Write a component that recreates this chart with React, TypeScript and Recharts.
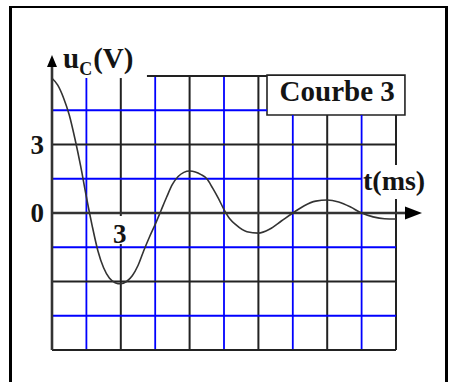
import React from "react";
import { LineChart, Line, XAxis, YAxis, ReferenceLine, ReferenceArea, ReferenceDot } from "recharts";

// time (ms)
const T = [0, 0.25, 0.5, 0.75, 1, 1.25, 1.5, 1.75, 2, 2.25, 2.5, 2.75, 3, 3.25, 3.5, 3.75, 4, 4.25, 4.5, 4.75, 5, 5.25, 5.5, 5.75, 6, 6.25, 6.5, 6.75, 7, 7.25, 7.5, 7.75, 8, 8.5, 9, 9.5, 10, 10.5, 11, 11.5, 12, 12.5, 13, 13.5, 14, 14.5, 15];
// uC (V)
const U = [5.9, 5.6, 5.05, 4.3, 3.25, 2.05, 0.7, -0.55, -1.65, -2.4, -2.85, -3.05, -3.1, -3.0, -2.75, -2.3, -1.65, -1.05, -0.5, 0.1, 0.7, 1.25, 1.6, 1.78, 1.84, 1.8, 1.68, 1.5, 1.1, 0.65, 0.15, -0.25, -0.5, -0.82, -0.88, -0.7, -0.35, 0.0, 0.32, 0.52, 0.57, 0.48, 0.27, 0.0, -0.17, -0.25, -0.26];

const X_GRID = [1.5, 3, 4.5, 6, 7.5, 9, 10.5, 12, 13.5, 15];
const Y_GRID = [6, 4.5, 3, 1.5, -1.5, -3, -4.5, -6];
const Y_TICKS = [3, 0];
const X_TICKS = [3];
const TITLE = "Courbe 3";

const data = T.map((t, i) => ({ t, u: U[i] }));

const BLUE = "#0000ff";
const BLACK = "#222222";
const FONT = "'Liberation Serif', 'Times New Roman', serif";

const isBlack = (v: number) => Math.abs(v / 3 - Math.round(v / 3)) < 1e-6;

function vSegments(t: number): [number, number][] {
  if (t <= 3.01) {
    if (t === 3) return [[-6, -1.36], [-0.13, 5.91]];
    return [[-6, 5.91]];
  }
  if (t <= 9.01) return [[-6, 6]];
  if (t >= 14.99) return [[-6, 0.61], [2.1, 4.29]];
  return [[-6, 4.29]];
}

function hSegments(u: number): [number, number][] {
  if (u === 6) return [[4.14, 9.375]];
  if (u === 4.5) return [[0, 9.375]];
  if (u === 1.5) return [[0, 13.5]];
  return [[0, 15]];
}

const textStyle = { fontFamily: FONT, fontWeight: 700, fill: "#141414" } as const;

export default function App() {
  const lines: React.ReactNode[] = [];
  X_GRID.forEach((t) => {
    vSegments(t).forEach(([a, b], k) => {
      lines.push(
        <ReferenceLine
          key={`v${t}-${k}`}
          segment={[{ x: t, y: a }, { x: t, y: b }]}
          stroke={isBlack(t) ? BLACK : BLUE}
          strokeWidth={isBlack(t) ? 2 : 1.8}
          ifOverflow="visible"
        />
      );
    });
  });
  Y_GRID.forEach((u) => {
    hSegments(u).forEach(([a, b], k) => {
      lines.push(
        <ReferenceLine
          key={`h${u}-${k}`}
          segment={[{ x: a, y: u }, { x: b, y: u }]}
          stroke={isBlack(u) ? BLACK : BLUE}
          strokeWidth={isBlack(u) ? 2 : 1.8}
          ifOverflow="visible"
        />
      );
    });
  });

  return (
    <div style={{ position: "fixed", left: 0, top: 0, width: 454, height: 382, overflow: "hidden", background: "#fff" }}>
      <div
        style={{
          position: "absolute",
          left: 9,
          top: 6,
          width: 433,
          height: 420,
          borderLeft: "3px solid #000",
          borderRight: "3px solid #000",
          borderTop: "2.5px solid #000",
        }}
      />
      <div style={{ position: "absolute", left: 0, top: 0 }}>
        <LineChart width={454} height={382} data={data} margin={{ top: 76, right: 58, bottom: 32, left: 52 }}>
          <XAxis type="number" dataKey="t" domain={[0, 15]} hide />
          <YAxis type="number" domain={[-6, 6]} hide />
          {lines}
          <ReferenceLine segment={[{ x: 0, y: -6 }, { x: 0, y: 6 }]} stroke="#333" strokeWidth={2.6} ifOverflow="visible" />
          <ReferenceLine segment={[{ x: 0, y: 0 }, { x: 15, y: 0 }]} stroke="#333" strokeWidth={2.6} ifOverflow="visible" />
          <ReferenceArea
            x1={9.375}
            x2={15.39}
            y1={4.29}
            y2={6.04}
            fill="#fff"
            fillOpacity={1}
            stroke="#222"
            strokeWidth={1.6}
            ifOverflow="visible"
          />
          <ReferenceDot
            x={0}
            y={6}
            ifOverflow="visible"
            shape={(p: any) => (
              <g>
                <line x1={p.cx} y1={p.cy} x2={p.cx} y2={p.cy - 10} stroke="#333" strokeWidth={2.6} />
                <polygon points={`${p.cx - 5},${p.cy - 9} ${p.cx},${p.cy - 21} ${p.cx + 5},${p.cy - 9}`} fill="#000" />
                <text x={p.cx + 11} y={p.cy - 8} {...textStyle} fontSize={29}>
                  u
                  <tspan fontSize={18} dy={7}>C</tspan>
                  <tspan dy={-7} dx={1}>(V)</tspan>
                </text>
              </g>
            )}
          />
          <ReferenceDot
            x={15}
            y={0}
            ifOverflow="visible"
            shape={(p: any) => (
              <g>
                <line x1={p.cx} y1={p.cy} x2={p.cx + 12} y2={p.cy} stroke="#333" strokeWidth={2.6} />
                <polygon points={`${p.cx + 9},${p.cy - 6.5} ${p.cx + 26},${p.cy} ${p.cx + 9},${p.cy + 6.5}`} fill="#000" />
                <text x={p.cx - 33} y={p.cy - 23} {...textStyle} fontSize={28}>t(ms)</text>
              </g>
            )}
          />
          {Y_TICKS.map((v) => (
            <ReferenceDot
              key={`yt${v}`}
              x={0}
              y={v}
              ifOverflow="visible"
              shape={(p: any) => (
                <text x={p.cx - 8} y={p.cy + 9} textAnchor="end" {...textStyle} fontSize={27}>
                  {v}
                </text>
              )}
            />
          ))}
          {X_TICKS.map((v) => (
            <ReferenceDot
              key={`xt${v}`}
              x={v}
              y={0}
              ifOverflow="visible"
              shape={(p: any) => (
                <text x={p.cx - 1} y={p.cy + 30} textAnchor="middle" {...textStyle} fontSize={27}>
                  {v}
                </text>
              )}
            />
          ))}
          <ReferenceDot
            x={12}
            y={5}
            ifOverflow="visible"
            shape={(p: any) => (
              <text x={p.cx + 10} y={p.cy + 2} textAnchor="middle" {...textStyle} fontSize={29}>
                {TITLE}
              </text>
            )}
          />
          <Line
            type="monotone"
            dataKey="u"
            stroke="#333"
            strokeWidth={1.6}
            dot={false}
            isAnimationActive={false}
          />
        </LineChart>
      </div>
    </div>
  );
}
